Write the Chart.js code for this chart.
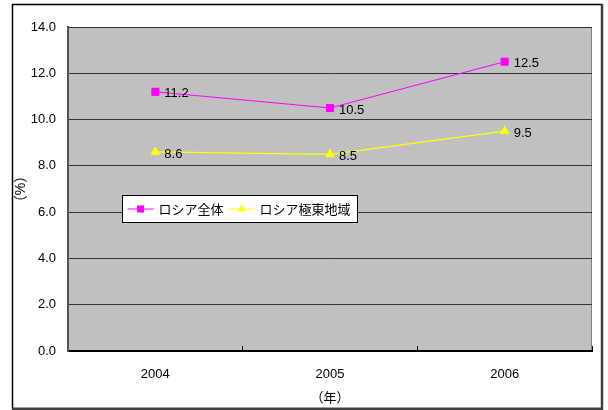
<!DOCTYPE html>
<html lang="ja">

<head>
    <meta charset="UTF-8">
    <title>ロシア全体・ロシア極東地域</title>
    <script src="https://cdn.jsdelivr.net/npm/chart.js"></script>
    <style>
        body {
            margin: 0;
            background: #fff;
        }

        #wrap {
            width: 608px;
            height: 410px;
        }
    </style>
</head>

<body>
    <div id="wrap"><canvas id="lineChart" width="608" height="410"></canvas></div>

    <script>
        const years = ['2004', '2005', '2006'];
        const russiaAll = [11.2, 10.5, 12.5];
        const farEast = [8.6, 8.5, 9.5];
        const seriesNames = ['ロシア全体', 'ロシア極東地域'];
        const yTitle = '（%）';
        const xTitle = '（年）';

        const FONT = "'Liberation Sans', 'Noto Sans CJK JP', sans-serif";

        // white page, outer frame and grey plot area
        const framePlugin = {
            id: 'frame',
            beforeDraw(chart) {
                const ctx = chart.ctx;
                const a = chart.chartArea;
                ctx.save();
                ctx.fillStyle = '#fff';
                ctx.fillRect(0, 0, chart.width, chart.height);
                ctx.strokeStyle = '#000';
                ctx.lineWidth = 1.5;
                ctx.strokeRect(12.5, 4.5, 589.5, 404);
                ctx.strokeStyle = '#404040';
                ctx.lineWidth = 2.5;
                ctx.beginPath();
                ctx.moveTo(602, 4);
                ctx.lineTo(602, 410);
                ctx.moveTo(12, 409);
                ctx.lineTo(603, 409);
                ctx.stroke();
                ctx.fillStyle = '#c0c0c0';
                ctx.fillRect(a.left, a.top, a.right - a.left, a.bottom - a.top);
                ctx.strokeStyle = '#808080';
                ctx.lineWidth = 1;
                ctx.beginPath();
                ctx.moveTo(a.left, a.top + 0.5);
                ctx.lineTo(a.right - 0.5, a.top + 0.5);
                ctx.lineTo(a.right - 0.5, a.bottom);
                ctx.stroke();
                ctx.restore();
            }
        };

        // value next to every point
        const valueLabels = {
            id: 'valueLabels',
            afterDatasetsDraw(chart) {
                const ctx = chart.ctx;
                ctx.save();
                ctx.font = '13px ' + FONT;
                ctx.fillStyle = '#000';
                ctx.textAlign = 'left';
                ctx.textBaseline = 'middle';
                chart.data.datasets.forEach((ds, i) => {
                    chart.getDatasetMeta(i).data.forEach((pt, j) => {
                        ctx.fillText(ds.data[j].toFixed(1), pt.x + 9, pt.y + 2);
                    });
                });
                ctx.restore();
            }
        };

        // boxed legend sitting inside the plot
        const boxLegend = {
            id: 'boxLegend',
            afterDraw(chart) {
                const ctx = chart.ctx;
                const x0 = 122.5, y0 = 195.5, w = 235, h = 27;
                const cy = y0 + h / 2;
                ctx.save();
                ctx.fillStyle = '#fff';
                ctx.fillRect(x0, y0, w, h);
                ctx.strokeStyle = '#000';
                ctx.lineWidth = 1;
                ctx.strokeRect(x0, y0, w, h);
                ctx.font = '13px ' + FONT;
                ctx.textBaseline = 'middle';
                let x = x0 + 5;
                chart.data.datasets.forEach(ds => {
                    ctx.strokeStyle = ds.borderColor;
                    ctx.lineWidth = 1;
                    ctx.beginPath();
                    ctx.moveTo(x, cy);
                    ctx.lineTo(x + 26, cy);
                    ctx.stroke();
                    ctx.fillStyle = ds.pointBackgroundColor;
                    Chart.helpers.drawPoint(ctx, {
                        pointStyle: ds.pointStyle,
                        radius: ds.pointRadius,
                        borderWidth: 0
                    }, x + 13, cy);
                    ctx.fillStyle = '#000';
                    ctx.fillText(ds.label, x + 31, cy + 1);
                    x += 31 + ctx.measureText(ds.label).width + 5;
                });
                ctx.restore();
            }
        };

        new Chart(document.getElementById('lineChart'), {
            type: 'line',
            data: {
                labels: years,
                datasets: [{
                    label: seriesNames[0],
                    data: russiaAll,
                    borderColor: '#ff00ff',
                    backgroundColor: '#ff00ff',
                    pointBackgroundColor: '#ff00ff',
                    pointBorderColor: '#ff00ff',
                    pointStyle: 'rect',
                    pointRadius: 5,
                    borderWidth: 1,
                    tension: 0
                }, {
                    label: seriesNames[1],
                    data: farEast,
                    borderColor: '#ffff00',
                    backgroundColor: '#ffff00',
                    pointBackgroundColor: '#ffff00',
                    pointBorderColor: '#ffff00',
                    pointStyle: 'triangle',
                    pointRadius: 4.5,
                    borderWidth: 1.2,
                    tension: 0
                }]
            },
            options: {
                responsive: false,
                animation: false,
                layout: {
                    padding: { left: 0, top: 27, right: 16, bottom: 0 }
                },
                plugins: {
                    legend: { display: false },
                    tooltip: { enabled: false }
                },
                scales: {
                    x: {
                        offset: true,
                        afterFit(scale) { scale.height = 59; },
                        grid: {
                            offset: true,
                            drawOnChartArea: false,
                            tickLength: -5,
                            tickColor: '#000'
                        },
                        border: { color: '#000', width: 2 },
                        ticks: {
                            padding: 21,
                            color: '#000',
                            font: { size: 13, family: FONT }
                        },
                        title: {
                            display: true,
                            text: xTitle,
                            color: '#000',
                            font: { size: 13, family: FONT },
                            padding: { top: 0, bottom: 4 }
                        }
                    },
                    y: {
                        min: 0,
                        max: 14,
                        afterFit(scale) { scale.width = 68; },
                        grid: {
                            color: '#333',
                            drawTicks: false
                        },
                        border: { color: '#555', width: 2 },
                        ticks: {
                            stepSize: 2,
                            padding: 12,
                            color: '#000',
                            font: { size: 13, family: FONT },
                            callback: v => v.toFixed(1)
                        },
                        title: {
                            display: true,
                            text: yTitle,
                            color: '#000',
                            font: { size: 14, family: FONT },
                            padding: { top: 13, bottom: 0 }
                        }
                    }
                }
            },
            plugins: [framePlugin, valueLabels, boxLegend]
        });
    </script>
</body>

</html>
